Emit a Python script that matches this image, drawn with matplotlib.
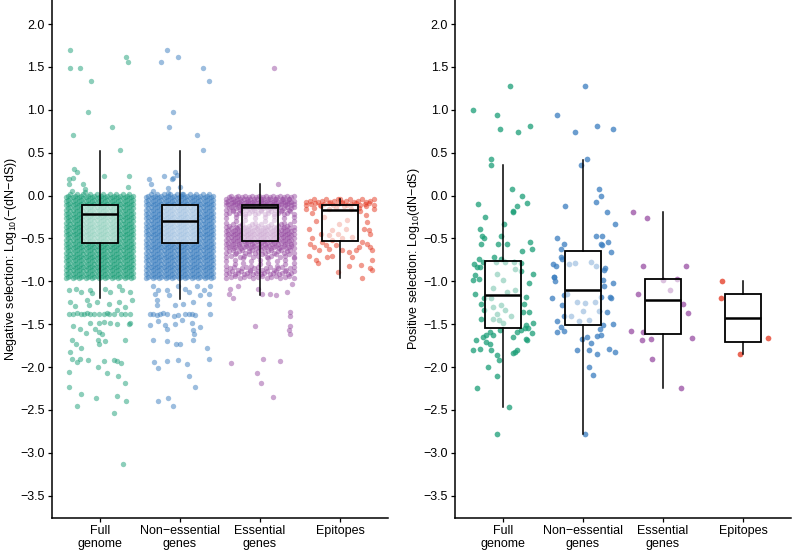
import numpy as np
import matplotlib
matplotlib.use("Agg")
import matplotlib.pyplot as plt
from matplotlib.ticker import FuncFormatter

plt.rcParams['font.family'] = ['Liberation Sans', 'DejaVu Sans']
plt.rcParams['mathtext.fontset'] = 'custom'
plt.rcParams['mathtext.rm'] = 'Liberation Sans'
plt.rcParams['mathtext.it'] = 'Liberation Sans'

categories = ['Full\ngenome', 'Non\u2212essential\ngenes', 'Essential\ngenes', 'Epitopes']
colors = ['#1B9E77', '#3A7DBF', '#984EA3', '#E4361F']

# ---- negative selection: box statistics (q1, med, q3, whislo, whishi)
neg_q1 = [-0.55, -0.55, -0.53, -0.53]
neg_med = [-0.215, -0.296, -0.133, -0.163]
neg_q3 = [-0.105, -0.105, -0.105, -0.105]
neg_lo = [-1.195, -1.21, -1.16, -0.957]
neg_hi = [0.52, 0.52, 0.135, -0.043]

# dense core of each group, read as bins (bin value, number of points)
neg_core_levels = [
    [0.0, -0.05, -0.1, -0.15, -0.2, -0.25, -0.3, -0.35, -0.4, -0.45, -0.5,
     -0.55, -0.6, -0.65, -0.7, -0.75, -0.8, -0.85, -0.9, -0.95],
    [0.0, -0.05, -0.1, -0.15, -0.2, -0.25, -0.3, -0.35, -0.4, -0.45, -0.5,
     -0.55, -0.6, -0.65, -0.7, -0.75, -0.8, -0.85, -0.9, -0.95],
    [-0.02, -0.06, -0.1, -0.15, -0.2, -0.25, -0.3, -0.35, -0.4, -0.45, -0.5,
     -0.55, -0.6, -0.65, -0.7, -0.75, -0.8, -0.85, -0.9, -0.95],
    [-0.06, -0.1, -0.14],
]
neg_core_counts = [
    [32] * 20,
    [32] * 20,
    [30, 32, 32, 30, 22, 8, 8, 22, 32, 32, 32, 32, 28, 22, 16, 9, 9, 18, 24, 16],
    [18, 16, 10],
]

# sparse points: (offset from category centre, value)
neg_full_dx = [-0.375, 0.33, 0.35, -0.375, -0.25, -0.11, -0.15, 0.155, -0.33, 0.25,
               -0.32, -0.28, -0.39, -0.33, 0.055, 0.36, -0.39, -0.21, -0.19, 0.355,
               -0.35, -0.18,
               -0.39, -0.30, -0.24, -0.12, -0.095, 0.07, 0.13, 0.24, 0.28, 0.38,
               -0.37, -0.16, -0.03, 0.11, 0.24, 0.40, -0.31, -0.14, 0.32, 0.22,
               -0.38, -0.33, -0.28, -0.24, -0.2, -0.16, -0.12, -0.075, -0.01, 0.05,
               0.09, 0.11, 0.175, 0.26, 0.32, 0.38,
               -0.12, -0.01, 0.05, 0.13, 0.22, 0.38, 0.37, -0.33, -0.25, -0.17,
               -0.06, -0.01, 0.03, -0.35, -0.30, -0.23, -0.02, 0.07, -0.01, 0.32,
               -0.37, -0.345, -0.28, -0.25, -0.15, 0.05, 0.175, 0.22, 0.27, -0.02,
               0.09, -0.38, 0.23, 0.31, -0.38, -0.23, -0.045, 0.21, 0.33, -0.29,
               0.18, 0.29]
neg_full_y = [1.70, 1.62, 1.56, 1.49, 1.49, 1.34, 0.975, 0.80, 0.71, 0.53,
              0.31, 0.27, 0.19, 0.21, 0.23, 0.23, 0.13, 0.14, 0.08, 0.105,
              0.05, 0.04,
              -1.105, -1.085, -1.125, -1.105, -1.14, -1.085, -1.125, -1.05, -1.105, -1.125,
              -1.24, -1.22, -1.24, -1.26, -1.24, -1.22, -1.29, -1.28, -1.30, -1.34,
              -1.377, -1.38, -1.375, -1.38, -1.377, -1.37, -1.38, -1.377, -1.385, -1.377,
              -1.37, -1.38, -1.377, -1.385, -1.377, -1.38,
              -1.49, -1.49, -1.48, -1.49, -1.5, -1.49, -1.50, -1.525, -1.56, -1.60,
              -1.56, -1.59, -1.61, -1.69, -1.73, -1.78, -1.68, -1.70, -1.735, -1.69,
              -1.82, -1.91, -1.94, -1.91, -1.92, -1.93, -1.92, -1.93, -1.95, -2.0,
              -2.07, -2.06, -2.10, -2.19, -2.23, -2.32, -2.36, -2.34, -2.40, -2.45,
              -2.53, -3.135]

neg_ness_dx = [-0.16, -0.02, -0.235, 0.29, 0.37, -0.09, -0.13, 0.21, 0.29, -0.06,
               -0.20, -0.39, -0.09, -0.04, -0.36, -0.10, 0.0, -0.33, -0.15, -0.15,
               0.03,
               -0.33, -0.27, -0.16, -0.02, 0.07, 0.21, 0.30, 0.36, -0.31, -0.14,
               0.11, 0.25, 0.38, -0.29, -0.29, -0.06, 0.045, 0.17, 0.36,
               -0.37, -0.33, -0.29, -0.245, -0.205, -0.16, -0.02, 0.07, 0.11, 0.15,
               0.19, 0.38, -0.07, 0.025, -0.27, -0.37, -0.18, -0.06, 0.15, 0.255,
               -0.16, 0.17, 0.18, -0.34, -0.16, -0.05, 0.0, 0.16, 0.34, -0.32,
               -0.27, -0.16, -0.025, 0.09, 0.36, 0.12, 0.195, -0.275, -0.15, -0.09]
neg_ness_y = [1.70, 1.62, 1.56, 1.49, 1.34, 0.975, 0.80, 0.71, 0.53, 0.27,
              0.23, 0.19, 0.21, 0.24, 0.13, 0.19, 0.10, 0.055, 0.09, 0.035,
              0.02,
              -1.05, -1.105, -1.105, -1.05, -1.085, -1.05, -1.105, -1.145, -1.145, -1.165,
              -1.125, -1.165, -1.05, -1.22, -1.28, -1.28, -1.26, -1.24, -1.26,
              -1.385, -1.38, -1.39, -1.385, -1.375, -1.385, -1.39, -1.385, -1.38, -1.385,
              -1.39, -1.385, -1.40, -1.45, -1.46, -1.51, -1.51, -1.50, -1.49, -1.53,
              -1.56, -1.57, -1.61, -1.68, -1.70, -1.735, -1.735, -1.69, -1.78, -1.94,
              -2.01, -1.93, -1.92, -1.96, -1.91, -2.10, -2.23, -2.40, -2.36, -2.45]

neg_ess_dx = [0.175, 0.23, -0.37, -0.27, -0.39, -0.34, -0.025, 0.025, 0.13, 0.2,
              0.34, 0.40, 0.37, 0.375, 0.38, 0.36, 0.38, -0.06, -0.36, 0.045,
              0.25, -0.04, 0.02, 0.16]
neg_ess_y = [1.49, 0.14, -1.085, -1.06, -1.145, -1.20, -1.085, -1.145, -1.15, -1.16,
             -1.125, -1.03, -1.36, -1.41, -1.525, -1.565, -1.62, -1.525, -1.95, -1.91,
             -1.93, -2.07, -2.19, -2.35]

neg_epi_dx = [-0.39, -0.355, -0.37, -0.325, -0.26, -0.39, -0.305, -0.16, -0.27, -0.24,
              -0.22, -0.18, -0.14, 0.32, 0.34, 0.30, 0.36, 0.28, 0.34, 0.38,
              0.24, 0.40, 0.195, 0.11, 0.03, -0.055, 0.40, 0.11, 0.26, 0.38,
              -0.03, 0.27, 0.40, 0.09, -0.01, -0.095, -0.03, 0.07, -0.14, 0.03,
              0.155, -0.095, -0.35, -0.2, 0.0, 0.25, 0.38, -0.3, 0.15, -0.1]
neg_epi_y = [-0.385, -0.50, -0.56, -0.60, -0.64, -0.70, -0.755, -0.715, -0.79, -0.445,
             -0.54, -0.58, -0.62, -0.23, -0.31, -0.385, -0.405, -0.54, -0.56, -0.60,
             -0.60, -0.64, -0.64, -0.66, -0.64, -0.58, -0.755, -0.825, -0.81, -0.84,
             -0.89, -0.957, -0.87, -0.29, -0.33, -0.405, -0.445, -0.385, -0.46, -0.50,
             -0.48, -0.52, -0.2, -0.25, -0.04, -0.18, -0.45, -0.3, -0.72, -0.7]

# ---- positive selection
pos_q1 = [-1.54, -1.51, -1.62, -1.708]
pos_med = [-1.155, -1.105, -1.218, -1.424]
pos_q3 = [-0.767, -0.646, -0.977, -1.144]
pos_lo = [-2.47, -2.78, -2.25, -1.844]
pos_hi = [0.36, 0.42, -0.187, -1.0]

pos_full_dx = [0.085, -0.38, -0.08, -0.04, 0.19, 0.34, -0.155, -0.155, 0.11, 0.24,
               -0.315, 0.30, 0.17, 0.12, 0.13, -0.22, 0.01, -0.29, -0.26, -0.24,
               -0.025, -0.28, -0.065, 0.05, 0.34, 0.36, 0.24, -0.305, -0.11, -0.03,
               -0.36, -0.29, -0.35, 0.38, -0.375, -0.30, 0.33, -0.35, -0.24, -0.27,
               0.29, 0.26, 0.25, 0.33, -0.275, -0.24, 0.375, 0.29, 0.27, 0.31,
               0.23, 0.17, 0.36, 0.125, 0.29, 0.30, -0.04, -0.165, -0.21, -0.125,
               -0.25, -0.34, -0.215, -0.165, -0.29, -0.375, -0.145, 0.145, 0.125, 0.175,
               -0.08, -0.05, -0.19, -0.08, -0.33, 0.075, -0.07, -0.32, -0.25,
               -0.09, 0.02, 0.14, 0.23, 0.15, 0.23, -0.08, 0.0, -0.13, 0.05,
               -0.15, -0.02, 0.03, -0.07, 0.1, -0.12, -0.05, 0.0, -0.12, 0.15]
pos_full_y = [1.28, 1.00, 0.94, 0.775, 0.74, 0.805, 0.43, 0.36, 0.08, -0.01,
              -0.095, -0.085, -0.125, -0.19, -0.18, -0.255, -0.33, -0.385, -0.47, -0.50,
              -0.47, -0.57, -0.56, -0.57, -0.54, -0.62, -0.65, -0.745, -0.715, -0.735,
              -0.80, -0.83, -0.93, -0.92, -0.99, -0.97, -1.02, -1.145, -1.20, -1.27,
              -1.18, -1.27, -1.36, -1.36, -1.435, -1.34, -1.49, -1.51, -1.54, -1.55,
              -1.57, -1.59, -1.60, -1.65, -1.67, -1.68, -1.57, -1.59, -1.63, -1.63,
              -1.65, -1.69, -1.71, -1.73, -1.79, -1.805, -1.805, -1.82, -1.84, -1.80,
              -1.86, -1.92, -2.0, -2.10, -2.25, -2.47, -2.78, -0.83, -0.775,
              -0.78, -0.78, -0.78, -0.79, -0.86, -0.88, -0.92, -0.99, -1.08, -1.12,
              -1.19, -1.28, -1.33, -1.38, -1.41, -1.44, -1.45, -1.49, -1.3, -1.1]

pos_ness_dx = [0.03, -0.32, -0.10, 0.17, 0.37, 0.05, -0.02, 0.2, 0.23, 0.16,
               -0.23, 0.305, 0.40, -0.325, -0.24, -0.27, 0.16, 0.24, 0.31, 0.22,
               0.24, 0.35, -0.28, -0.26, -0.375, -0.34, 0.27, 0.26, -0.36, -0.36,
               -0.35, 0.25, 0.37, 0.26, -0.39, -0.24, 0.23, 0.34, 0.35, -0.26,
               -0.24, 0.3, -0.32, 0.25, 0.37, -0.33, -0.27, -0.24, -0.01, 0.05,
               0.10, 0.175, 0.23, 0.21, 0.33, 0.40, -0.075, 0.08, 0.17, 0.07,
               0.12, 0.02,
               -0.18, -0.1, 0.1, 0.16, -0.2, -0.08, 0.15, 0.0, -0.05, 0.2,
               0.08, -0.15, 0.02]
pos_ness_y = [1.28, 0.935, 0.745, 0.805, 0.777, 0.43, 0.36, 0.08, -0.01, -0.08,
              -0.12, -0.19, -0.33, -0.50, -0.56, -0.62, -0.475, -0.475, -0.54, -0.57,
              -0.575, -0.66, -0.715, -0.735, -0.795, -0.82, -0.84, -0.87, -0.95, -0.95,
              -1.0, -0.99, -1.02, -1.05, -1.20, -1.165, -1.18, -1.18, -1.20, -1.28,
              -1.40, -1.36, -1.46, -1.51, -1.50, -1.59, -1.53, -1.58, -1.67, -1.65,
              -1.715, -1.64, -1.63, -1.56, -1.79, -1.825, -1.80, -1.805, -1.85, -2.0,
              -2.09, -2.78,
              -0.80, -0.79, -0.77, -0.82, -1.15, -1.24, -1.24, -1.35, -1.46, -1.35,
              -1.45, -1.4, -1.25]

pos_ess_dx = [-0.37, -0.195, -0.245, 0.29, 0.17, 0.0, 0.085, -0.31, 0.25, 0.31,
              -0.40, -0.25, -0.26, -0.15, 0.36, -0.14, 0.22]
pos_ess_y = [-0.187, -0.257, -0.82, -0.82, -0.97, -0.98, -1.10, -1.145, -1.27, -1.37,
             -1.58, -1.59, -1.69, -1.67, -1.66, -1.91, -2.25]

pos_epi_dx = [-0.26, -0.27, 0.31, -0.04]
pos_epi_y = [-1.0, -1.19, -1.66, -1.85]


def draw_boxes(ax, q1, med, q3, lo, hi):
    stats = [dict(q1=a, med=b, q3=c, whislo=d, whishi=e, fliers=[])
             for a, b, c, d, e in zip(q1, med, q3, lo, hi)]
    ax.bxp(stats, positions=[1, 2, 3, 4], widths=0.45, showcaps=False,
           patch_artist=True, manage_ticks=False,
           boxprops=dict(facecolor=(1, 1, 1, 0.55), edgecolor='black', linewidth=1.3),
           medianprops=dict(color='black', linewidth=1.8),
           whiskerprops=dict(color='black', linewidth=1.1),
           zorder=3)


def style_axes(ax, ylabel):
    ax.set_xlim(0.4, 4.6)
    ax.set_ylim(-3.76, 2.28)
    ax.set_yticks([2.0, 1.5, 1.0, 0.5, 0.0, -0.5, -1.0, -1.5, -2.0, -2.5, -3.0, -3.5])
    ax.yaxis.set_major_formatter(FuncFormatter(lambda v, p: f'{v:.1f}'.replace('-', '\u2212')))
    ax.set_xticks([1, 2, 3, 4])
    ax.set_xticklabels(categories, linespacing=1.15)
    for s in ['top', 'right']:
        ax.spines[s].set_visible(False)
    for s in ['left', 'bottom']:
        ax.spines[s].set_linewidth(1.1)
    ax.tick_params(axis='both', length=3, width=0.9, labelsize=9, colors='black')
    ax.tick_params(axis='y', pad=2)
    ax.tick_params(axis='x', pad=2)
    ax.set_ylabel(ylabel, fontsize=9)
    ax.yaxis.set_label_coords(-0.098, 0.5)


fig = plt.figure(figsize=(7.92, 5.53), dpi=100)
ax1 = fig.add_axes([0.0653, 0.0633, 0.4246, 0.9367])
ax2 = fig.add_axes([0.5745, 0.0633, 0.4242, 0.9367])

# left panel: dense cores, the points of each bin spread over the jitter band
for i, (levels, counts) in enumerate(zip(neg_core_levels, neg_core_counts)):
    for lv, n in zip(levels, counts):
        xs = np.linspace(-0.42, 0.42, n)
        ys = lv + ((np.arange(n) % 3) - 1) * 0.016
        ax1.scatter(i + 1 + xs, ys, s=15, color=colors[i],
                    alpha=0.5, linewidths=0, zorder=1)

neg_sparse = [(neg_full_dx, neg_full_y), (neg_ness_dx, neg_ness_y),
              (neg_ess_dx, neg_ess_y), (neg_epi_dx, neg_epi_y)]
for i, (dx, y) in enumerate(neg_sparse):
    ax1.scatter(i + 1 + np.array(dx), y, s=15, color=colors[i], alpha=0.5,
                linewidths=0, zorder=1)
draw_boxes(ax1, neg_q1, neg_med, neg_q3, neg_lo, neg_hi)
style_axes(ax1, 'Negative selection: Log$_{10}$(\u2212(dN\u2212dS))')

pos_sparse = [(pos_full_dx, pos_full_y), (pos_ness_dx, pos_ness_y),
              (pos_ess_dx, pos_ess_y), (pos_epi_dx, pos_epi_y)]
for i, (dx, y) in enumerate(pos_sparse):
    ax2.scatter(i + 1 + np.array(dx), y, s=17, color=colors[i], alpha=0.75,
                linewidths=0, zorder=1)
draw_boxes(ax2, pos_q1, pos_med, pos_q3, pos_lo, pos_hi)
style_axes(ax2, 'Positive selection: Log$_{10}$(dN\u2212dS)')

fig.savefig('out.png', dpi=100)
